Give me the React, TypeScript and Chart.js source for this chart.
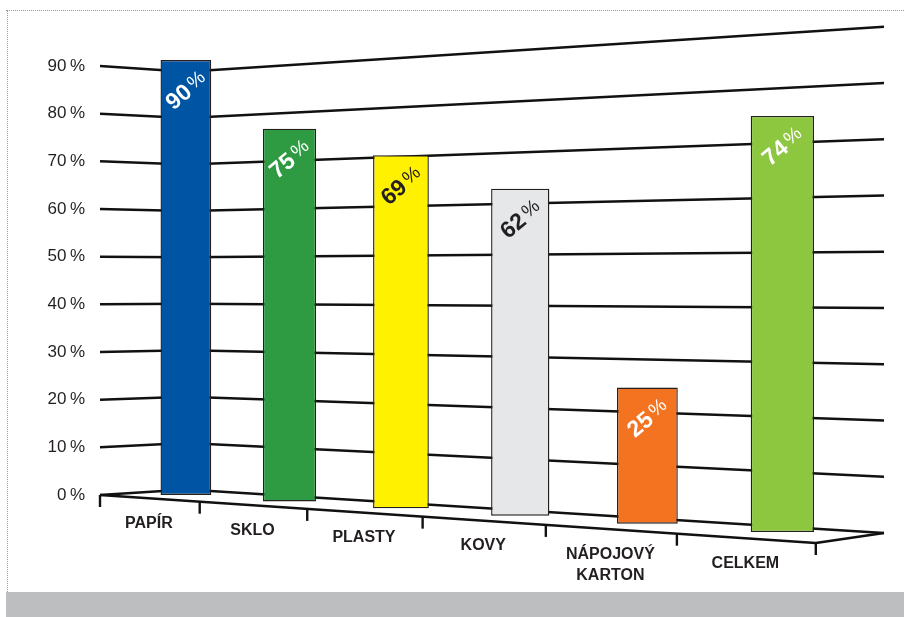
import { useEffect, useRef } from "react";
import { Chart, registerables } from "chart.js";

Chart.register(...registerables);

// ---- data ----
const categories: (string | string[])[] = ["PAPÍR", "SKLO", "PLASTY", "KOVY", ["NÁPOJOVÝ", "KARTON"], "CELKEM"];
const recyclingRates = [90, 75, 69, 62, 25, 74];
const yMax = 90;
const yStep = 10;

// ---- styles ----
const barColors = ["#0054a4", "#2e9a42", "#fff100", "#e6e7e8", "#f37321", "#8dc63f"];
const valueTextColors = ["#ffffff", "#ffffff", "#231f20", "#231f20", "#ffffff", "#ffffff"];
const INK = "#231f20";
const FONT = "'Liberation Sans', Arial, sans-serif";

// Pseudo-3D view: the flat Chart.js frame is bent into a receding wall,
// a floor in front of it and bars standing on that floor.
const VIEW = {
  spread: [0.733, 0.18], // horizontal foreshortening: x' = left + w*(a*u + b*u^2)
  barSetBack: 37, // bars stand deeper on the floor than its front edge
  barWidthGain: [0.841, 0.257],
  barDrop: [-5.4, 48.8], // baseline drop of the bars across the width
  barGain: [0.99, 0.218], // vertical magnification of the bars across the width
  wall: [
    { t: 0, drop: 0, gain: 1 },
    { t: 0.11, drop: -5.5, gain: 0.974 },
    { t: 1, drop: 38, gain: 1.18 },
  ],
  frontDrop: 52.6,
  tickLength: 12,
  labelAngle: -40,
  labelOffset: 30,
};

const spreadX = (area: any, u: number) =>
  area.left + area.width * (VIEW.spread[0] * u + VIEW.spread[1] * u * u);
const frontY = (area: any, py0: number, x: number) =>
  py0 + (VIEW.frontDrop * (x - area.left)) / area.width;

const perspectivePlugin = {
  id: "perspective",
  afterDatasetsUpdate(chart: any) {
    const area = chart.chartArea;
    const xs = chart.scales.x;
    const ys = chart.scales.y;
    const py0 = ys.getPixelForValue(0);
    const meta = chart.getDatasetMeta(0);
    const values = chart.data.datasets[0].data as number[];
    meta.data.forEach((el: any, i: number) => {
      const u = (xs.getPixelForValue(i) - area.left) / area.width;
      const x = spreadX(area, u) + VIEW.barSetBack;
      const t = (x - area.left) / area.width;
      const base = py0 + VIEW.barDrop[0] + VIEW.barDrop[1] * t;
      const gain = VIEW.barGain[0] + VIEW.barGain[1] * t;
      const top = base + (ys.getPixelForValue(values[i]) - py0) * gain;
      el.x = x;
      el.y = top;
      el.base = base;
      el.height = base - top;
      el.width = el.width * (VIEW.barWidthGain[0] + VIEW.barWidthGain[1] * u);
    });
  },
  beforeDatasetsDraw(chart: any) {
    const { ctx, chartArea: area } = chart;
    const xs = chart.scales.x;
    const ys = chart.scales.y;
    const py0 = ys.getPixelForValue(0);
    ctx.save();
    ctx.strokeStyle = "#111";
    ctx.lineCap = "butt";
    ctx.lineJoin = "round";

    // wall gridlines
    ctx.lineWidth = 2.5;
    ys.ticks.forEach((tk: any) => {
      const py = ys.getPixelForValue(tk.value);
      ctx.beginPath();
      VIEW.wall.forEach((k, j) => {
        const x = area.left + k.t * area.width;
        const y = py0 + k.drop + (py - py0) * k.gain;
        if (j === 0) ctx.moveTo(x, y);
        else ctx.lineTo(x, y);
      });
      ctx.stroke();
    });

    // floor front edge and its right side
    const n = chart.data.labels.length;
    const xEnd = spreadX(area, 1);
    const backRight = VIEW.wall[VIEW.wall.length - 1];
    ctx.lineWidth = 2.7;
    ctx.beginPath();
    ctx.moveTo(area.left, py0);
    ctx.lineTo(xEnd, frontY(area, py0, xEnd));
    ctx.lineTo(area.left + backRight.t * area.width, py0 + backRight.drop);
    ctx.stroke();

    // category boundary ticks
    ctx.lineWidth = 2.4;
    for (let j = 0; j <= n; j++) {
      const u = (xs.getPixelForValue(j - 0.5) - area.left) / area.width;
      const x = spreadX(area, u);
      const y = frontY(area, py0, x);
      ctx.beginPath();
      ctx.moveTo(x, y);
      ctx.lineTo(x, y + VIEW.tickLength);
      ctx.stroke();
    }
    ctx.restore();
  },
  afterDatasetsDraw(chart: any) {
    const { ctx, chartArea: area } = chart;
    const xs = chart.scales.x;
    const ys = chart.scales.y;
    const py0 = ys.getPixelForValue(0);
    const meta = chart.getDatasetMeta(0);
    const values = chart.data.datasets[0].data as number[];

    // value labels inside the bars
    const numFont = `bold 23px ${FONT}`;
    const pctFont = `19px ${FONT}`;
    meta.data.forEach((el: any, i: number) => {
      const num = String(values[i]);
      ctx.save();
      ctx.translate(el.x, el.y + VIEW.labelOffset);
      ctx.rotate((VIEW.labelAngle * Math.PI) / 180);
      ctx.font = numFont;
      const wn = ctx.measureText(num).width;
      ctx.font = pctFont;
      const wp = ctx.measureText("%").width;
      const gap = 3;
      const start = -(wn + gap + wp) / 2;
      ctx.fillStyle = valueTextColors[i];
      ctx.textBaseline = "alphabetic";
      ctx.textAlign = "left";
      ctx.font = numFont;
      ctx.fillText(num, start, 8);
      ctx.font = pctFont;
      ctx.fillText("%", start + wn + gap, 5);
      ctx.restore();
    });

    // category labels under the floor edge
    ctx.save();
    ctx.font = `bold 16px ${FONT}`;
    ctx.fillStyle = INK;
    ctx.textAlign = "center";
    ctx.textBaseline = "middle";
    (chart.data.labels as (string | string[])[]).forEach((lab, i) => {
      const u = (xs.getPixelForValue(i) - area.left) / area.width;
      const x = spreadX(area, u);
      const y = frontY(area, py0, x) + 25;
      const lines = Array.isArray(lab) ? lab : [lab];
      lines.forEach((ln, k) => ctx.fillText(ln, x, y + k * 21));
    });
    ctx.restore();
  },
};

export default function App() {
  const canvasRef = useRef<HTMLCanvasElement>(null);

  useEffect(() => {
    const chart = new Chart(canvasRef.current!, {
      type: "bar",
      data: {
        labels: categories,
        datasets: [
          {
            data: recyclingRates,
            backgroundColor: barColors,
            borderColor: INK,
            borderWidth: 1.4,
            borderSkipped: false,
            barPercentage: 0.45,
            categoryPercentage: 1,
            clip: false,
          },
        ],
      },
      options: {
        animation: false,
        responsive: true,
        maintainAspectRatio: false,
        events: [],
        layout: { padding: { top: 66, right: 20, bottom: 122, left: 0 } },
        plugins: { legend: { display: false }, tooltip: { enabled: false } },
        scales: {
          x: { display: false, offset: true },
          y: {
            min: 0,
            max: yMax,
            ticks: {
              stepSize: yStep,
              padding: 15,
              color: INK,
              font: { family: FONT, size: 17 },
              callback: (v: any) => `${v}\u2009%`,
            },
            grid: { display: false, drawTicks: false },
            border: { display: false },
            afterFit: (s: any) => {
              s.width = 100;
            },
          },
        },
      },
      plugins: [perspectivePlugin],
    } as any);
    return () => chart.destroy();
  }, []);

  return (
    <div style={{ position: "fixed", left: 0, top: 0, width: 904, height: 617, background: "#fff", overflow: "hidden" }}>
      <div style={{ position: "absolute", inset: 0 }}>
        <canvas ref={canvasRef} />
      </div>
      <div style={{ position: "absolute", left: 6, top: 10, width: 898, height: 0, borderTop: "1px dotted #9a9a9a" }} />
      <div style={{ position: "absolute", left: 7, top: 10, width: 0, height: 582, borderLeft: "1px dotted #9a9a9a" }} />
      <div style={{ position: "absolute", left: 6, top: 592, width: 898, height: 25, background: "#bcbec0" }} />
    </div>
  );
}
